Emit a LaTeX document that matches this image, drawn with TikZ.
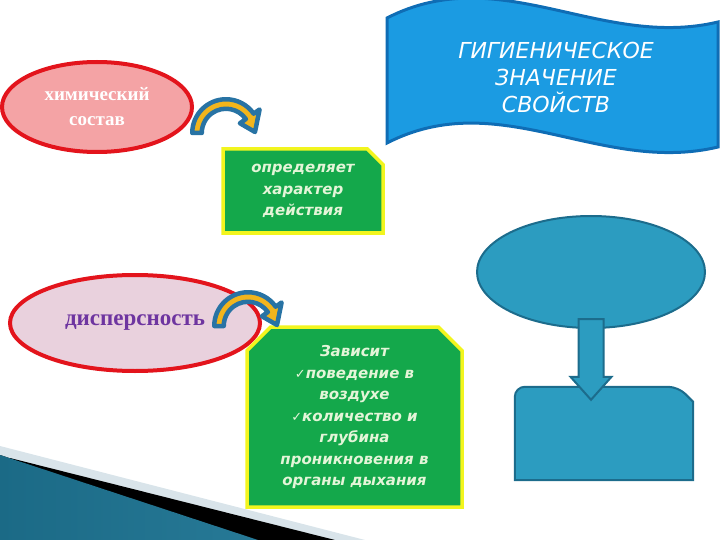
\documentclass[tikz,border=0pt]{standalone}
\usepackage{fontspec}
\setmainfont{DejaVu Sans}
\newfontfamily\ovalfont{Liberation Serif}
\usetikzlibrary{shapes.geometric,shapes.misc,calc}

\definecolor{chemfill}{HTML}{F4A3A5}
\definecolor{ovalred}{HTML}{E3141C}
\definecolor{dispfill}{HTML}{E9D1DD}
\definecolor{dispink}{HTML}{6E35A0}
\definecolor{boxgreen}{HTML}{14A84B}
\definecolor{boxyellow}{HTML}{F2F51E}
\definecolor{boxtext}{HTML}{E4F5D8}
\definecolor{flagblue}{HTML}{1B9BE2}
\definecolor{flagedge}{HTML}{0F6DB5}
\definecolor{tealfill}{HTML}{2C9CC0}
\definecolor{tealedge}{HTML}{1C6C8C}
\definecolor{arcblue}{HTML}{2873A4}
\definecolor{arcyellow}{HTML}{F2B51C}
\definecolor{wedgedark}{HTML}{1B6A86}
\definecolor{wedgelight}{HTML}{55B6D8}
\definecolor{wedgegray}{HTML}{D9E4EA}

\tikzset{
  turn/.pic={
    \filldraw[arcarrow] (-180:33.75) arc[start angle=-180,end angle=-35,radius=33.75]
      -- (-35:41) -- (-2:29) -- (-35:17) -- (-35:24.25)
      arc[start angle=-35,end angle=-180,radius=24.25] -- cycle;
  }
}

\begin{document}
\begin{tikzpicture}[x=1pt,y=-1pt,
    every node/.style={inner sep=0pt},
    oval/.style={ellipse,draw=ovalred,line width=4pt,align=center},
    greenbox/.style={chamfered rectangle,fill=boxgreen,draw=boxyellow,line width=3.5pt,
      text=boxtext,align=center,font=\bfseries\itshape\fontsize{15}{21.5}\selectfont},
    tealshape/.style={fill=tealfill,draw=tealedge,line width=2pt},
    arcarrow/.style={fill=arcyellow,draw=arcblue,line width=4.5pt,line join=round}
]
\useasboundingbox (0,0) rectangle (720,540);
\clip (0,0) rectangle (720,540);

% corner wedge
\fill[wedgegray] (0,446) -- (365,540) -- (0,540) -- cycle;
\fill[black] (10,458) -- (335,540) -- (0,540) -- cycle;
\fill[left color=wedgedark,middle color=wedgelight,right color=wedgedark!80!wedgelight]
  (0,455) -- (258,540) -- (0,540) -- cycle;

% first row
\node[oval,fill=chemfill,minimum width=190pt,minimum height=90pt,text=white,
  font=\ovalfont\bfseries\fontsize{19}{25}\selectfont] (chem) at (97,107) {химический\\состав};
\pic (turnA) at (226,133) {turn};
\node[greenbox,chamfered rectangle corners=north east,chamfered rectangle xsep=12pt,
  minimum width=160pt,minimum height=84pt] (effect) at (303,191) {определяет\\характер\\действия};

% banner
\filldraw[fill=flagblue,draw=flagedge,line width=3pt]
  (387,18) .. controls (500,-40) and (600,50) .. (718,22) -- (718,147)
  .. controls (600,175) and (500,85) .. (387,143) -- cycle;
\node[text=white,align=center,font=\itshape\fontsize{22}{27}\selectfont] (title) at (556,77)
  {ГИГИЕНИЧЕСКОЕ\\ЗНАЧЕНИЕ\\СВОЙСТВ};

% second row
\node[oval,fill=dispfill,minimum width=250pt,minimum height=96pt,text=dispink,
  font=\ovalfont\bfseries\fontsize{23}{27}\selectfont] (disp) at (135,323) {дисперсность};
\node[greenbox,chamfered rectangle corners={north west,north east},chamfered rectangle xsep=20pt,
  minimum width=215pt,minimum height=180pt] (depends) at (354.5,417)
  {Зависит\\{\mdseries\fontsize{13}{13}\selectfont ✓}поведение в\\воздухе\\{\mdseries\fontsize{13}{13}\selectfont ✓}количество и\\глубина\\проникновения в\\органы дыхания};
\pic (turnB) at (248,326) {turn};

% right column
\node[ellipse,tealshape,minimum width=228pt,minimum height=112pt] (topell) at (591,272) {};
\node[minimum width=178pt,minimum height=93pt] (resbox) at (604,433.5) {};
\filldraw[tealshape] (resbox.south west) [rounded corners=10pt] -- (resbox.north west)
  -- ($(resbox.north east)+(-15,0)$) [sharp corners] -- ($(resbox.north east)+(0,15)$)
  -- (resbox.south east) -- cycle;
\filldraw[tealshape] ($(topell.south)+(-12.5,-10)$) -- ($(topell.south |- resbox.north)+(-12.5,-10)$)
  -- ++(-8,0) -- ($(topell.south |- resbox.north)+(0,13)$)
  -- ($(topell.south |- resbox.north)+(20.5,-10)$) -- ++(-8,0)
  -- ($(topell.south)+(12.5,-10)$) -- cycle;

\end{tikzpicture}
\end{document}
